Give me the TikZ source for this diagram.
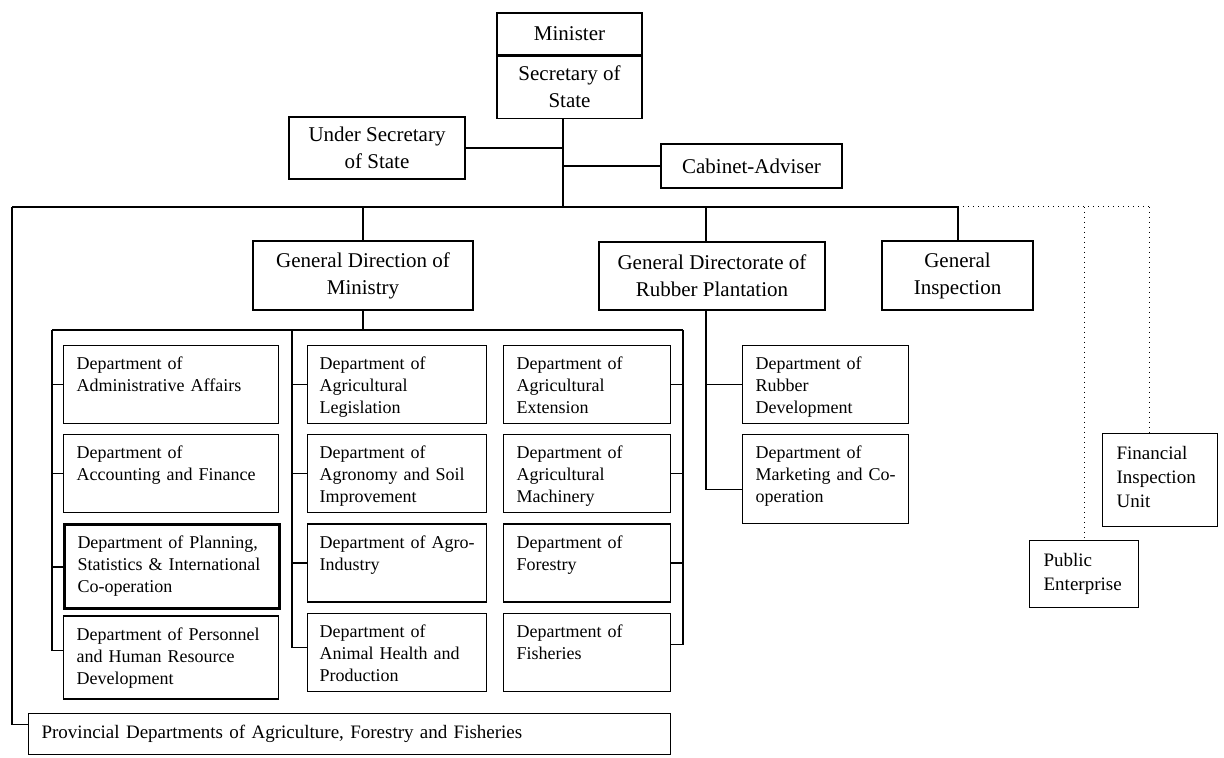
\documentclass[tikz,border=0pt]{standalone}
\usepackage{fontspec}
\setmainfont{Liberation Serif}
\usetikzlibrary{positioning}

\begin{document}
\begin{tikzpicture}[x=0.5pt, y=-0.5pt, line width=0.6pt,
    box/.style={draw, align=center, inner sep=0pt, font=\fontsize{10.5}{13.5}\selectfont},
    dept/.style={draw, anchor=north west, align=left, inner xsep=6.5pt, inner ysep=5.5pt,
      text height=6.5pt, text depth=21.5pt, font=\fontsize{9}{11}\selectfont},
    unit/.style={draw, anchor=north west, align=left, inner xsep=7pt, inner ysep=6.5pt,
      text height=6.5pt, font=\fontsize{9.5}{12}\selectfont},
    link/.style={dotted, line width=0.5pt}]
  \useasboundingbox (0,0) rectangle (1224,758);
  % top of the ministry
  \node[box, minimum width=72.5pt, minimum height=21pt] (minister) at (569.5,34) {Minister};
  \node[box, minimum width=72.5pt, minimum height=31pt, below=0pt of minister] (secretary) {Secretary of\\State};
  \node[box, minimum width=88pt, minimum height=31pt] (undersec) at (377,148) {Under Secretary\\of State};
  \node[box, minimum width=90.5pt, minimum height=22pt] (cabinet) at (751.5,166) {Cabinet-Adviser};
  %
  \node[box, minimum width=110pt, minimum height=34.5pt] (gendir) at (363,275.5) {General Direction of\\Ministry};
  \node[box, minimum width=113pt, minimum height=34pt] (rubber) at (712,276) {General Directorate of\\Rubber Plantation};
  \node[box, minimum width=75.5pt, minimum height=34.5pt] (geninsp) at (957.5,275.5) {General\\Inspection};
  \node[unit, text width=43.5pt, text depth=27pt] (fininsp) at (1102,433) {Financial\\Inspection\\Unit};
  \node[unit, text width=40.5pt, text depth=14pt] (public) at (1029,540) {Public\\Enterprise};
  % departments of the general direction
  \node[dept, text width=94.5pt] (admin) at (63,345) {Department of\\Administrative Affairs};
  \node[dept, text width=94.5pt, below=5pt of admin.south west, anchor=north west] (account) {Department of\\Accounting and Finance};
  \node[dept, text width=94.5pt, text depth=24.5pt, line width=1.5pt, below=5pt of account.south west, anchor=north west] (plan) {Department of Planning,\\Statistics \& International\\Co-operation};
  \node[dept, text width=94.5pt, text depth=24pt, below=2.5pt of plan.south west, anchor=north west] (pers) {Department of Personnel\\and Human Resource\\Development};
  %
  \node[dept, text width=77.5pt, inner xsep=6pt] (agleg) at (307,345) {Department of\\Agricultural\\Legislation};
  \node[dept, text width=77.5pt, inner xsep=6pt, below=5pt of agleg.south west, anchor=north west] (agron) {Department of\\Agronomy and Soil\\Improvement};
  \node[dept, text width=77.5pt, inner xsep=6pt, below=5pt of agron.south west, anchor=north west] (agroind) {\mbox{Department of Agro-}\\Industry};
  \node[dept, text width=77.5pt, inner xsep=6pt, below=5pt of agroind.south west, anchor=north west] (animal) {Department of\\Animal Health and\\Production};
  %
  \node[dept, text width=70.5pt] (agext) at (503,345) {Department of\\Agricultural\\Extension};
  \node[dept, text width=70.5pt, below=5pt of agext.south west, anchor=north west] (agmach) {Department of\\Agricultural\\Machinery};
  \node[dept, text width=70.5pt, below=5pt of agmach.south west, anchor=north west] (forest) {Department of\\Forestry};
  \node[dept, text width=70.5pt, below=5pt of forest.south west, anchor=north west] (fish) {Department of\\Fisheries};
  % departments of the rubber directorate
  \node[dept, text width=70pt] (rubdev) at (742,345) {Department of\\Rubber\\Development};
  \node[dept, text width=70pt, text depth=27pt, below=5pt of rubdev.south west, anchor=north west] (market) {Department of\\Marketing and Co-\\operation};
  %
  \node[draw, anchor=north west, align=left, text width=308pt, inner xsep=6.5pt, minimum height=20.5pt,
    font=\fontsize{9.5}{12}\selectfont] (prov) at (28,713) {Provincial Departments of Agriculture, Forestry and Fisheries};

  % connectors
  \coordinate (hub) at (563,207);
  \coordinate (busW) at (12,207);
  \coordinate (busE) at (958,207);
  \coordinate (dotE) at (1149,207);
  \coordinate (rb) at (706,310);
  \coordinate (colL) at (52,330);
  \coordinate (colM) at (292,330);
  \coordinate (colR) at (683,330);
  \draw (hub |- secretary.south) -- (hub);
  \draw (undersec.east) -- (undersec.east -| hub);
  \draw (cabinet.west) -- (cabinet.west -| hub);
  \draw (busW) -- (busE);
  \draw[link] (busE) -- (dotE);
  \draw (gendir.north |- busW) -- (gendir.north);
  \draw (rb |- busW) -- (rb |- rubber.north);
  \draw (busE) -- (busE |- geninsp.north);
  \draw[link] (public.north |- busE) -- (public.north);
  \draw[link] (dotE) -- (dotE |- fininsp.north);
  \draw (busW) |- ([yshift=5pt]prov.west);
  %
  \draw (gendir.south) -- (gendir.south |- colL);
  \draw (colL) -- (colR);
  \draw (colL |- admin.west) -- (admin.west);
  \draw (colL |- account.west) -- (account.west);
  \draw (colL |- plan.west) -- (plan.west);
  \draw (colL) |- ([yshift=3.5pt]pers.west);
  \draw (colM |- agleg.west) -- (agleg.west);
  \draw (colM |- agron.west) -- (agron.west);
  \draw (colM |- agroind.west) -- (agroind.west);
  \draw (colM) |- ([yshift=2.5pt]animal.west);
  \draw (colR |- agext.east) -- (agext.east);
  \draw (colR |- agmach.east) -- (agmach.east);
  \draw (colR |- forest.east) -- (forest.east);
  \draw (colR) |- ([yshift=4pt]fish.east);
  %
  \draw (rb) |- ([yshift=-5pt]market.west);
  \draw (rb |- rubdev.west) -- (rubdev.west);
\end{tikzpicture}
\end{document}
